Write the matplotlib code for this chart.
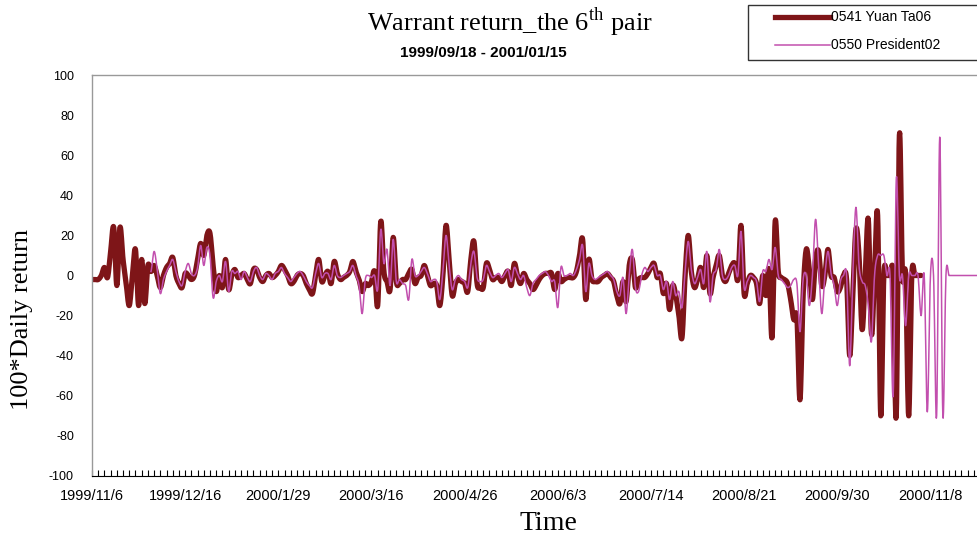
import numpy as np
import matplotlib
matplotlib.use('Agg')
from matplotlib import pyplot as plt
from matplotlib.lines import Line2D
from matplotlib.patches import Rectangle

# x-axis labels (every 30th trading day)
date_labels = ['1999/11/6', '1999/12/16', '2000/1/29', '2000/3/16', '2000/4/26',
               '2000/6/3', '2000/7/14', '2000/8/21', '2000/9/30', '2000/11/8']
label_step = 30
n_days = 286

# 0541 Yuan Ta06, 100*daily return
yuan = [-2, -2, -2, 0, 4, -1, 12, 24, -5, 24,
        8, -4, -15, 0, 13, -15, 8, -14, 5, 2,
        5, 0, -6, 0, 4, 6, 9, 0, -4, -6,
        1, 0, -2, 0, 8, 16, 10, 20, 21, 5,
        -8, 0, -6, 8, -7, 0, 3, -1, 0, 1,
        -2, -4, 3, 3, -1, -3, 0, 1, -1, 0,
        2, 5, 3, 0, -4, -3, 0, 1, 0, -4,
        -7, -9, 0, 8, -3, 0, 2, -4, 7, 1,
        -2, -1, 0, 2, 7, 2, -2, -8, -4, -5,
        -3, 2, -15, 27, 2, -3, -7, 19, -3, -4,
        -2, -2, 1, 3, -4, -1, 0, 5, 0, -5,
        -4, -5, -15, 0, 25, 8, -10, -4, -2, -3,
        -4, -8, 8, 17, -4, -6, -6, 6, 3, -2,
        -1, -1, -3, 0, 2, -5, 6, 0, -4, 1,
        -2, -4, -7, -5, -2, 0, 1, 1, 1, -7,
        1, -3, -2, -1, -1, -1, 2, 10, 18, -12,
        8, -2, -3, -3, -1, 0, 1, -1, -3, -10,
        -14, -3, -13, 5, 8, -6, -2, -1, -1, 1,
        4, 6, -1, 1, -9, -4, -17, -5, -10, -20,
        -31, 0, 20, 2, -6, -2, 4, -6, 10, -9,
        -1, 5, 10, 0, -3, 1, 5, 6, -2, 25,
        -9, -4, 0, -1, -4, -14, 0, -10, 3, -31,
        27, 2, -1, -2, -4, -12, -22, -21, -62, -10,
        13, 3, -12, 8, 12, -5, 0, 13, 0, -1,
        -8, -6, 0, -2, -40, -10, 23, 10, -27, 0,
        28, -29, 0, 30, -70, 0, 0, 0, 0, -70,
        70, 0, 0, -70, 0, 0, 0, 0] + [np.nan] * 18

# 0550 President02, 100*daily return
president = [np.nan] * 19 + [
        2, 12, 3, -9, -2, 2, 5, 8, 2, -3,
        -5, 2, 6, 1, 0, 4, 15, 5, 14, 10,
        -11, -3, 0, -3, 7, -8, 2, 1, 2, -2,
        2, -1, -3, 2, 4, 0, -2, 1, 0, -2,
        1, 2, 4, 1, -1, -3, -1, 1, 2, 0,
        -3, -5, -6, 1, 6, -1, 1, 1, -2, 5,
        0, -1, 0, 1, 2, 5, 0, -5, -19, -2,
        0, -1, 0, -7, 23, 6, 13, -5, 18, -3,
        -2, -4, -5, -12, 8, 0, 0, 2, 4, 1,
        -3, -2, -3, -12, 2, 20, 5, -7, -2, 0,
        -2, -3, -6, 6, 12, -1, -3, -2, 5, 2,
        -1, 0, 1, -1, 1, 3, -3, 4, 1, -2,
        0, -6, -10, -4, -2, 0, 1, 2, 0, -3,
        -3, -16, 4, 0, 0, 1, 0, 3, 8, 15,
        -8, 6, 0, -2, -1, 0, 1, 2, 0, -2,
        -8, -10, -1, -19, 0, 13, -6, -8, 0, 4,
        2, 4, 5, 0, 0, -7, -3, -12, -3, -10,
        -8, -16, 2, 17, 3, -4, -1, 3, -4, 12,
        -13, 0, 3, 13, 0, -2, 0, 4, 5, 0,
        22, -6, -3, 0, -1, -3, -13, 2, 2, 8,
        3, 14, 0, -2, -4, -6, -5, -2, -4, -28,
        -2, 0, -15, 0, 28, 5, -19, 0, 12, 1,
        -5, -15, -3, 0, 0, -45, 0, 34, 5, -3,
        -5, -15, -33, 0, 10, 10, 10, 0, 0, -60,
        48, 0, 0, -25, 0, 0, 0, 0, -20, 0,
        -68, 0, 0, -70, 69, -70, 0, 0, 0, 0,
        0, 0, 0, 0, 0, 0, 0]
president = president[:n_days]

series_names = ['0541 Yuan Ta06', '0550 President02']


def smooth_line(vals, steps=10):
    # Excel-like smoothed line (Catmull-Rom as cubic Bezier), NaN breaks the line
    y = np.array(vals, dtype=float)
    xs, ys = [], []
    idx = np.where(~np.isnan(y))[0]
    runs = np.split(idx, np.where(np.diff(idx) > 1)[0] + 1)
    for run in runs:
        if len(run) < 2:
            continue
        yr = y[run]
        xr = run.astype(float)
        m = len(run)
        t = np.linspace(0, 1, steps, endpoint=False)
        for k in range(m - 1):
            p0 = yr[k - 1] if k > 0 else yr[k]
            p1, p2 = yr[k], yr[k + 1]
            p3 = yr[k + 2] if k + 2 < m else yr[k + 1]
            c1 = p1 + (p2 - p0) / 6.0
            c2 = p2 - (p3 - p1) / 6.0
            b = ((1 - t) ** 3 * p1 + 3 * (1 - t) ** 2 * t * c1
                 + 3 * (1 - t) * t ** 2 * c2 + t ** 3 * p2)
            xs.extend(xr[k] + t)
            ys.extend(b)
        xs.append(xr[-1])
        ys.append(yr[-1])
        xs.append(np.nan)
        ys.append(np.nan)
    return np.array(xs), np.array(ys)


plt.rcParams['font.family'] = ['Liberation Sans', 'DejaVu Sans']
plt.rcParams['mathtext.fontset'] = 'custom'
plt.rcParams['mathtext.rm'] = 'Liberation Serif'
plt.rcParams['axes.unicode_minus'] = False

W, H = 977, 538
fig = plt.figure(figsize=(W / 100, H / 100), dpi=100)
ax = fig.add_axes([92 / W, 1 - 476 / H, 885 / W, 401 / H])

c_yuan = '#7e1518'
c_pres = '#c24fae'

x1, y1 = smooth_line(yuan)
x2, y2 = smooth_line(president)
ax.plot(x1, y1, color=c_yuan, lw=3.8, solid_capstyle='round', solid_joinstyle='round')
ax.plot(x2, y2, color=c_pres, lw=1.1)

ax.set_xlim(0, n_days - 1)
ax.set_ylim(-100, 100)
ax.set_yticks(range(-100, 101, 20))
ax.tick_params(axis='y', length=0, pad=13, labelsize=9)

ax.set_xticks(range(0, n_days, label_step))
ax.set_xticklabels(date_labels)
ax.set_xticks(range(0, n_days, 2), minor=True)
ax.tick_params(axis='x', which='both', direction='in', length=4, width=0.8,
               labelsize=10.5, pad=9)

for s in ['left', 'top']:
    ax.spines[s].set_color('#999999')
    ax.spines[s].set_linewidth(1.0)
ax.spines['right'].set_visible(False)
ax.spines['bottom'].set_color('black')

fig.text(548 / W, 1 - 524 / H, 'Time', family='Liberation Serif', fontsize=20,
         ha='center', va='center')
fig.text(22 / W, 1 - 320 / H, '100*Daily return', family='Liberation Serif',
         fontsize=19, ha='center', va='center', rotation=90)

fig.text(510 / W, 1 - 22 / H, r'Warrant return_the 6$^{\mathrm{th}}$ pair',
         family='Liberation Serif', fontsize=19, ha='center', va='center')
fig.text(483 / W, 1 - 53 / H, '1999/09/18 - 2001/01/15',
         fontsize=11, fontweight='bold', ha='center', va='center')

# legend box, drawn in figure pixels
fig.patches.append(Rectangle((748 / W, 1 - 60 / H), 240 / W, 55 / H,
                             transform=fig.transFigure, facecolor='white',
                             edgecolor='#333333', lw=1.0))
for name, col, lw, yy in [(series_names[0], c_yuan, 3.8, 17),
                          (series_names[1], c_pres, 1.1, 45)]:
    fig.lines.append(Line2D([775 / W, 830 / W], [1 - yy / H, 1 - yy / H],
                            transform=fig.transFigure, color=col, lw=lw))
    fig.text(831 / W, 1 - yy / H, name, fontsize=10, ha='left', va='center')

fig.savefig('out.png', dpi=100)
